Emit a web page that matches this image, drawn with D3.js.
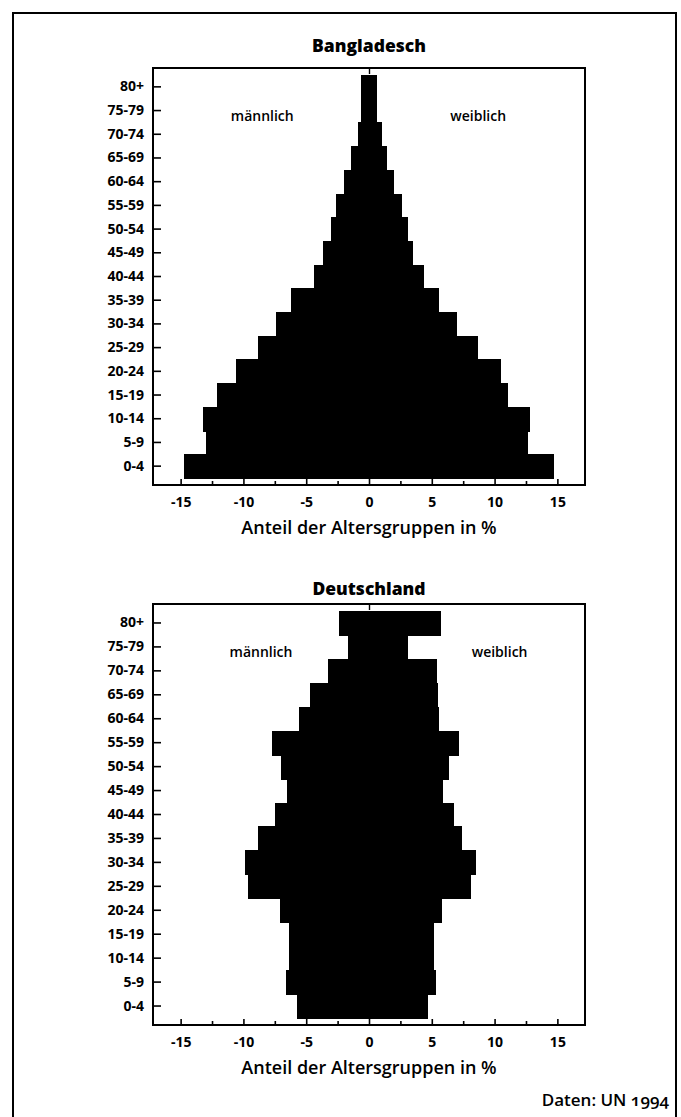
<!DOCTYPE html>
<html>
<head>
<meta charset="utf-8">
<script src="https://cdn.jsdelivr.net/npm/d3@7"></script>
<style>
  html, body { margin: 0; padding: 0; background: #fff; }
  svg { display: block; font-family: "Open Sans", "Liberation Sans", sans-serif; }
</style>
</head>
<body>
<svg id="chart" width="681" height="1117"></svg>
<script>
// ---- Data ----
const ageGroups = ["80+","75-79","70-74","65-69","60-64","55-59","50-54","45-49","40-44","35-39","30-34","25-29","20-24","15-19","10-14","5-9","0-4"];

const bangladeschMale   = [0.6, 0.6, 0.9, 1.4, 2.0, 2.6, 3.0, 3.7, 4.4, 6.2, 7.4, 8.8, 10.6, 12.1, 13.2, 13.0, 14.7];
const bangladeschFemale = [0.6, 0.6, 1.0, 1.4, 2.0, 2.6, 3.1, 3.5, 4.4, 5.6, 7.0, 8.7, 10.5, 11.1, 12.8, 12.7, 14.7];

const deutschlandMale   = [2.4, 1.7, 3.3, 4.7, 5.6, 7.7, 7.0, 6.5, 7.5, 8.8, 9.9, 9.6, 7.1, 6.4, 6.4, 6.6, 5.7];
const deutschlandFemale = [5.7, 3.1, 5.4, 5.5, 5.6, 7.2, 6.4, 5.9, 6.8, 7.4, 8.5, 8.1, 5.8, 5.2, 5.2, 5.3, 4.7];

const xTicks = [-15, -12.5, -10, -7.5, -5, -2.5, 0, 2.5, 5, 7.5, 10, 12.5, 15];
const xDomain = [-17.2, 17.2];

const titles = ["Bangladesch", "Deutschland"];
const axisTitle = "Anteil der Altersgruppen in %";
const maleLabel = "männlich";
const femaleLabel = "weiblich";
const sourceLabel = "Daten: UN 1994";

// ---- Drawing ----
const svg = d3.select("#chart");

// outer frame
svg.append("rect")
  .attr("x", 13).attr("y", 13)
  .attr("width", 663).attr("height", 1120)
  .attr("fill", "none").attr("stroke", "#000").attr("stroke-width", 2);

const x = d3.scaleLinear().domain(xDomain).range([153, 585]);

function drawPyramid(cfg) {
  const g = svg.append("g");
  const { top, bottom, title, titleGap, male, female, maleX, femaleX } = cfg;

  const y = d3.scaleBand().domain(ageGroups).range([top + 7, bottom - 7]).padding(0);

  const bars = g.append("g").attr("shape-rendering", "crispEdges");
  bars.selectAll("rect.m")
    .data(ageGroups.map((a, i) => ({ a, v: male[i] })))
    .join("rect")
    .attr("x", d => x(-d.v))
    .attr("y", d => Math.round(y(d.a)))
    .attr("width", d => x(0) - x(-d.v))
    .attr("height", d => Math.round(y(d.a) + y.bandwidth()) - Math.round(y(d.a)) + 1)
    .attr("fill", "#000");

  bars.selectAll("rect.f")
    .data(ageGroups.map((a, i) => ({ a, v: female[i] })))
    .join("rect")
    .attr("x", x(0) - 0.5)
    .attr("y", d => Math.round(y(d.a)))
    .attr("width", d => x(d.v) - x(0) + 0.5)
    .attr("height", d => Math.round(y(d.a) + y.bandwidth()) - Math.round(y(d.a)) + 1)
    .attr("fill", "#000");

  // frame of the plot
  g.append("rect")
    .attr("x", x.range()[0]).attr("y", top)
    .attr("width", x.range()[1] - x.range()[0]).attr("height", bottom - top)
    .attr("fill", "none").attr("stroke", "#000").attr("stroke-width", 2);

  // x axis (ticks pointing inward)
  const xa = g.append("g")
    .attr("transform", `translate(0,${bottom})`)
    .call(d3.axisBottom(x).tickValues(xTicks)
      .tickSize(-6).tickPadding(12)
      .tickFormat(d => (d % 5 === 0 ? String(d) : "")));
  xa.select(".domain").remove();
  xa.selectAll(".tick line")
    .attr("y2", d => (d % 5 === 0 ? -6 : -4))
    .attr("stroke-width", 1.6);
  xa.selectAll(".tick text")
    .attr("font-size", 14).attr("font-weight", 700)
    .attr("font-family", "'Open Sans', sans-serif").attr("fill", "#000");

  // small tick at top for zero
  const xt = g.append("g")
    .attr("transform", `translate(0,${top})`)
    .call(d3.axisTop(x).tickValues([0]).tickSize(-6).tickFormat(""));
  xt.select(".domain").remove();
  xt.selectAll(".tick line").attr("stroke-width", 1.4);

  // y axis
  const ya = g.append("g")
    .attr("transform", `translate(${x.range()[0]},0)`)
    .call(d3.axisLeft(y).tickSize(-8).tickPadding(9));
  ya.select(".domain").remove();
  ya.selectAll(".tick line").attr("stroke-width", 1.6);
  ya.selectAll(".tick text")
    .attr("font-size", 14).attr("font-weight", 700)
    .attr("font-family", "'Open Sans', sans-serif").attr("fill", "#000");

  // title
  g.append("text")
    .attr("x", x(0)).attr("y", top - titleGap)
    .attr("text-anchor", "middle")
    .attr("font-size", 17.5).attr("font-weight", 800)
    .text(title);

  // sex labels
  const yl = y("75-79") + y.bandwidth() / 2 + 10;
  g.append("text").attr("x", x(maleX)).attr("y", yl)
    .attr("text-anchor", "middle").attr("font-size", 14).attr("font-weight", 600)
    .text(maleLabel);
  g.append("text").attr("x", x(femaleX)).attr("y", yl)
    .attr("text-anchor", "middle").attr("font-size", 14).attr("font-weight", 600)
    .text(femaleLabel);

  // axis title
  g.append("text")
    .attr("x", x(0)).attr("y", bottom + 49)
    .attr("text-anchor", "middle")
    .attr("font-size", 18).attr("font-weight", 600)
    .text(axisTitle);
}

drawPyramid({ top: 68, bottom: 485, title: titles[0], titleGap: 16, male: bangladeschMale, female: bangladeschFemale, maleX: -8.5, femaleX: 8.7 });
drawPyramid({ top: 604, bottom: 1025, title: titles[1], titleGap: 9, male: deutschlandMale, female: deutschlandFemale, maleX: -8.6, femaleX: 10.4 });

svg.append("text")
  .attr("x", 669).attr("y", 1106)
  .attr("text-anchor", "end")
  .attr("font-size", 17).attr("font-weight", 600)
  .style("font-variant-numeric", "oldstyle-nums")
  .text(sourceLabel);
</script>
</body>
</html>
